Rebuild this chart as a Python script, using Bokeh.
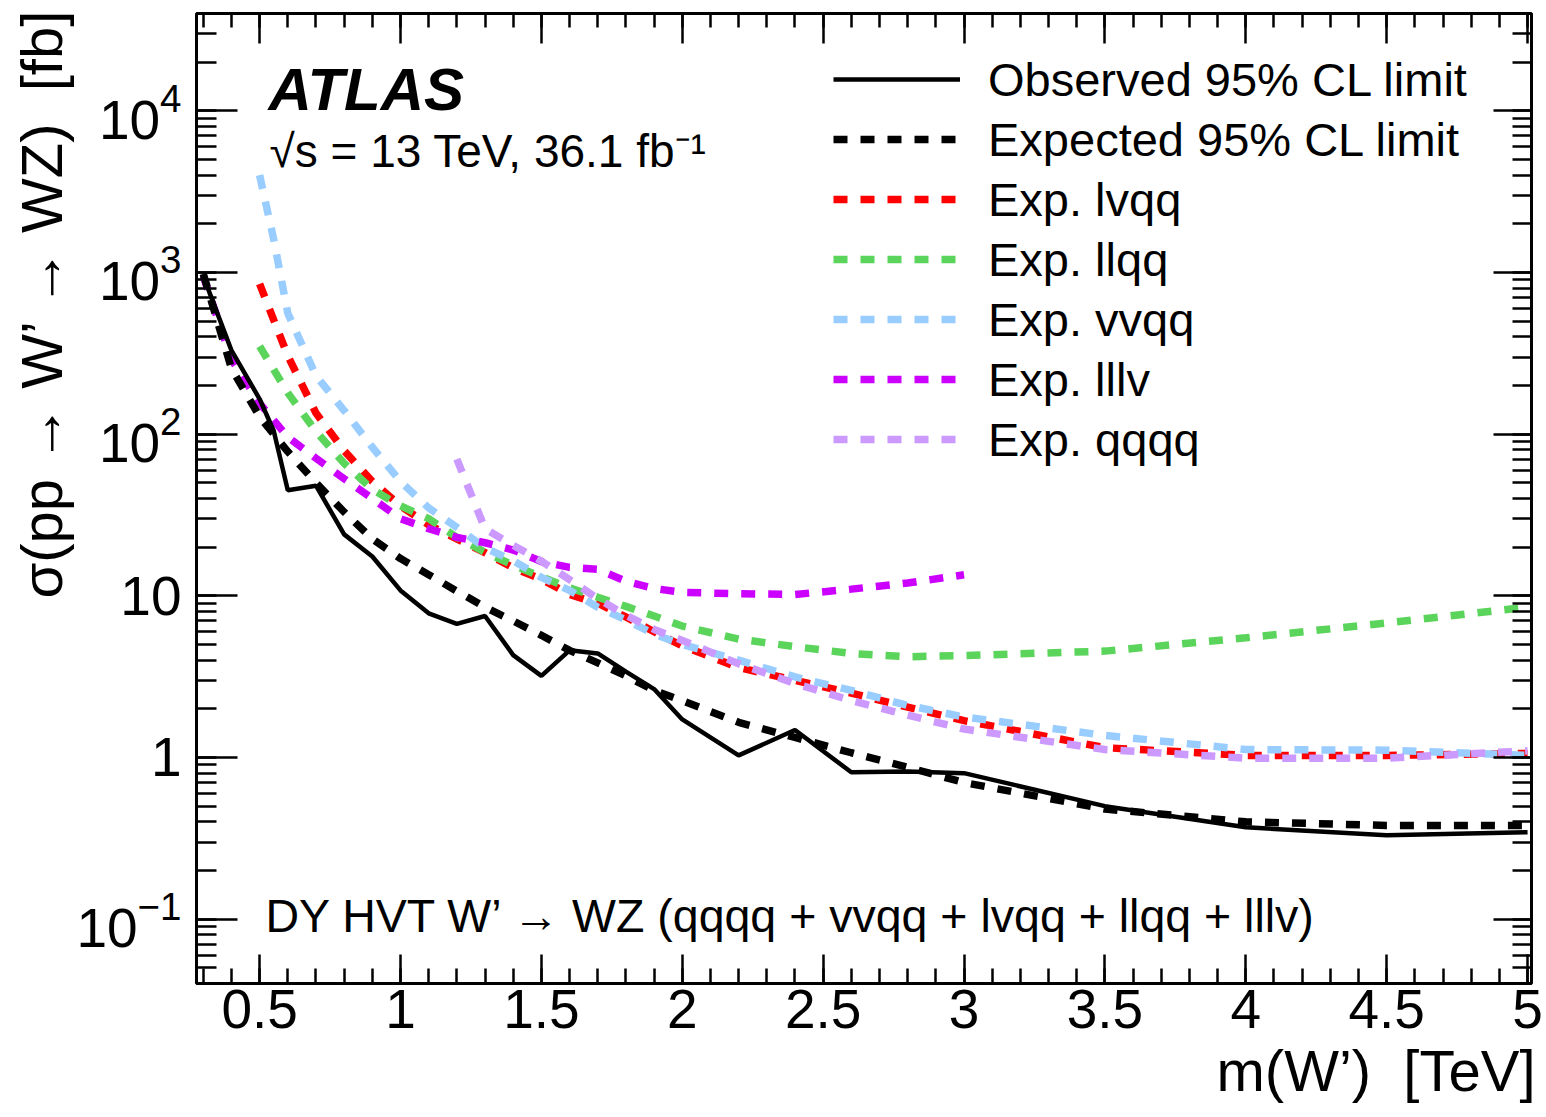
from bokeh.plotting import figure
from bokeh.models import (Range1d, LinearAxis, LogAxis, SingleIntervalTicker, LogTicker,
                          CustomJSTickFormatter, Legend, LegendItem, Label, Title)
from bokeh.embed import file_html
from bokeh.resources import INLINE

FONT = "Liberation Sans"

# ---------------- data ----------------
m_obs = [0.3, 0.4, 0.5, 0.55, 0.6, 0.7, 0.8, 0.9, 1.0, 1.1, 1.2, 1.3, 1.4, 1.5, 1.6, 1.7, 1.8, 1.9,
         2.0, 2.2, 2.4, 2.6, 2.8, 3.0, 3.5, 4.0, 4.5, 5.0]
obs = [950, 330, 165, 105, 45, 48, 24, 17.5, 10.8, 7.8, 6.7, 7.5, 4.3, 3.2, 4.6, 4.4, 3.4, 2.65,
       1.72, 1.03, 1.48, 0.81, 0.82, 0.80, 0.50, 0.37, 0.33, 0.345]

m_exp = [0.3, 0.4, 0.5, 0.6, 0.7, 0.8, 0.9, 1.0, 1.1, 1.2, 1.3, 1.4, 1.5, 1.6, 1.7, 1.8, 1.9,
         2.0, 2.2, 2.4, 2.6, 2.8, 3.0, 3.5, 4.0, 4.5, 5.0]
exp_comb = [980, 255, 128, 78, 50, 33, 22.5, 17, 13.5, 10.7, 8.5, 7.0, 5.7, 4.6, 3.85, 3.2, 2.6,
            2.25, 1.65, 1.33, 1.07, 0.87, 0.70, 0.48, 0.40, 0.38, 0.38]

m_lvqq = [0.5, 0.6, 0.7, 0.8, 0.9, 1.0, 1.1, 1.2, 1.3, 1.4, 1.5, 1.6, 1.7, 1.8, 1.9, 2.0,
          2.2, 2.4, 2.6, 2.8, 3.0, 3.5, 4.0, 4.5, 5.0]
exp_lvqq = [850, 305, 135, 79, 51, 36, 27.5, 22.5, 18.5, 14.9, 12.7, 10.2, 9.0, 7.4, 6.0, 4.9,
            3.6, 3.0, 2.5, 2.05, 1.69, 1.15, 1.03, 1.03, 1.06]

m_llqq = [0.5, 0.6, 0.7, 0.8, 0.9, 1.0, 1.1, 1.2, 1.3, 1.4, 1.5, 1.6, 1.7, 1.8, 1.9, 2.0,
          2.2, 2.4, 2.6, 2.8, 3.0, 3.5, 4.0, 4.5, 5.0]
exp_llqq = [350, 180, 104, 66, 45.5, 36, 30, 23, 18.6, 15.5, 13.1, 11.2, 9.8, 8.6, 7.5, 6.5,
            5.4, 4.85, 4.4, 4.2, 4.27, 4.55, 5.5, 6.8, 8.5]

m_vvqq = [0.5, 0.55, 0.6, 0.7, 0.8, 0.9, 1.0, 1.1, 1.2, 1.3, 1.4, 1.5, 1.6, 1.7, 1.8, 1.9, 2.0,
          2.2, 2.4, 2.6, 2.8, 3.0, 3.5, 4.0, 4.5, 5.0]
exp_vvqq = [4000, 1600, 560, 230, 140, 83, 51, 35, 26.5, 19.8, 16.5, 13.0, 10.8, 8.5, 7.1, 5.8, 5.0,
            4.0, 3.15, 2.6, 2.1, 1.78, 1.37, 1.12, 1.11, 1.03]

m_lllv = [0.3, 0.4, 0.5, 0.6, 0.7, 0.8, 0.9, 1.0, 1.1, 1.2, 1.3, 1.4, 1.5, 1.6, 1.7, 1.8, 1.9,
          2.0, 2.2, 2.4, 2.6, 2.8, 3.0]
exp_lllv = [950, 290, 155, 96, 71, 53, 40, 30, 26, 23, 21.3, 19.2, 16.3, 15.0, 14.6, 12.3, 11.1,
            10.5, 10.3, 10.2, 11.0, 12.0, 13.5]

m_qqqq = [1.2, 1.3, 1.4, 1.5, 1.6, 1.7, 1.8, 1.9, 2.0, 2.2, 2.4, 2.6, 2.8, 3.0, 3.5, 4.0, 4.5, 5.0]
exp_qqqq = [70, 26, 20.5, 16.4, 12.6, 9.6, 7.6, 6.2, 5.3, 3.8, 2.87, 2.25, 1.83, 1.5, 1.12, 0.99,
            0.99, 1.1]

labels = ["Observed 95% CL limit", "Expected 95% CL limit", "Exp. lvqq", "Exp. llqq",
          "Exp. vvqq", "Exp. lllv", "Exp. qqqq"]

# ---------------- figure ----------------
p = figure(frame_width=1335, frame_height=970,
           x_range=Range1d(0.276, 5.014), y_range=Range1d(0.04, 4e4),
           y_axis_type="log", output_backend="svg", toolbar_location=None,
           min_border_left=196, min_border_top=13, min_border_right=12, min_border_bottom=120)
p.xgrid.visible = False
p.ygrid.visible = False
p.outline_line_color = "black"
p.outline_line_width = 3
p.background_fill_color = "white"
p.border_fill_color = "white"


def style_axis(ax, tin, tmin):
    ax.axis_line_color = None
    ax.major_tick_in = tin
    ax.major_tick_out = 0
    ax.minor_tick_in = tmin
    ax.minor_tick_out = 0
    ax.major_tick_line_width = 2.5
    ax.minor_tick_line_width = 2.5
    ax.major_tick_line_color = "black"
    ax.minor_tick_line_color = "black"


# bottom axis
xb = p.xaxis[0]
xb.ticker = SingleIntervalTicker(interval=0.5, num_minor_ticks=5)
xb.formatter = CustomJSTickFormatter(code="return String(Math.round(tick*10)/10)")
style_axis(xb, 29, 15)
xb.major_label_text_font = FONT
xb.major_label_text_font_size = "55px"
xb.major_label_text_color = "black"
xb.major_label_standoff = 6

# left axis
yl = p.yaxis[0]
yl.ticker = LogTicker(num_minor_ticks=10)
style_axis(yl, 41, 20)
yl.major_label_overrides = {1: "1", 10: "10"}
yl.major_label_text_font = FONT
yl.major_label_text_font_size = "55px"
yl.major_label_text_color = "black"
yl.major_label_standoff = 15

# top axis (ticks only)
xt = LinearAxis(ticker=SingleIntervalTicker(interval=0.5, num_minor_ticks=5),
                formatter=CustomJSTickFormatter(code="return ''"),
                major_label_text_font_size="4px", major_label_standoff=0)
style_axis(xt, 30, 14)
p.add_layout(xt, "above")

# right axis (ticks only)
yr = LogAxis(ticker=LogTicker(num_minor_ticks=10), formatter=CustomJSTickFormatter(code="return ''"),
             major_label_text_font_size="4px", major_label_standoff=0)
style_axis(yr, 38, 19)
p.add_layout(yr, "right")

# axis titles (right/top aligned, ROOT style)
p.add_layout(Title(text="m(W\u2019)\u00a0 [TeV]", align="right", standoff=10, offset=-4,
                   text_font=FONT, text_font_size="58px", text_font_style="normal",
                   text_color="black"), "below")
p.add_layout(Title(text="\u03c3(pp \u2192 W\u2019 \u2192 WZ)\u00a0 [fb]", align="right", standoff=0,
                   offset=-5, text_font=FONT, text_font_size="58px", text_font_style="normal",
                   text_color="black"), "left")

# ---------------- lines ----------------
DASH = "14 13"
r_lvqq = p.line(m_lvqq, exp_lvqq, line_color="#FF0000", line_width=7.5, line_dash=DASH)
r_llqq = p.line(m_llqq, exp_llqq, line_color="#5BD45B", line_width=7.5, line_dash=DASH)
r_vvqq = p.line(m_vvqq, exp_vvqq, line_color="#99CCFF", line_width=7.5, line_dash=DASH)
r_lllv = p.line(m_lllv, exp_lllv, line_color="#CC00FF", line_width=7.5, line_dash=DASH)
r_qqqq = p.line(m_qqqq, exp_qqqq, line_color="#CC99FF", line_width=7.5, line_dash=DASH)
r_exp = p.line(m_exp, exp_comb, line_color="black", line_width=7.5, line_dash=DASH)
r_obs = p.line(m_obs, obs, line_color="black", line_width=4.5)

renderers = [r_obs, r_exp, r_lvqq, r_llqq, r_vvqq, r_lllv, r_qqqq]
legend = Legend(items=[LegendItem(label=l, renderers=[r]) for l, r in zip(labels, renderers)],
                location=(637, 514), orientation="vertical",
                glyph_width=127, glyph_height=60, label_height=60, spacing=0,
                padding=0, margin=0, label_standoff=28,
                label_text_font=FONT, label_text_font_size="47px", label_text_color="black",
                border_line_color=None, background_fill_alpha=0)
p.add_layout(legend)

# ---------------- texts ----------------
p.add_layout(Label(x=72, y=894, x_units="screen", y_units="screen", text="ATLAS",
                   text_font=FONT, text_font_size="60px", text_font_style="bold italic",
                   text_baseline="alphabetic", text_color="black"))
p.add_layout(Label(x=73, y=833, x_units="screen", y_units="screen",
                   text="\u221as = 13 TeV, 36.1 fb\u207b\u00b9",
                   text_font=FONT, text_font_size="46px",
                   text_baseline="alphabetic", text_color="black"))
p.add_layout(Label(x=69, y=68, x_units="screen", y_units="screen",
                   text="DY HVT W\u2019 \u2192 WZ (qqqq + vvqq + lvqq + llqq + lllv)",
                   text_font=FONT, text_font_size="46.5px",
                   text_baseline="alphabetic", text_color="black"))

open("out.html", "w").write(file_html(p, INLINE))
